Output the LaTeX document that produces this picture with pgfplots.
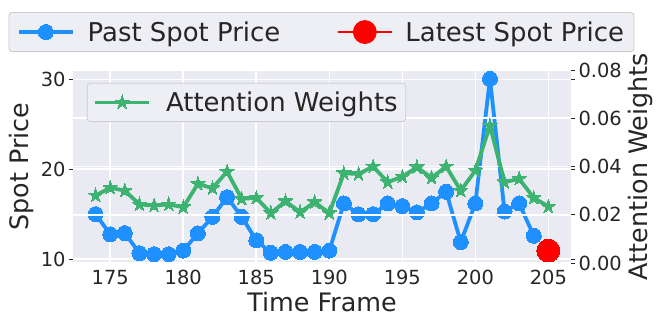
\documentclass[border=0pt]{standalone}
\usepackage{fontspec}
\setmainfont{DejaVu Sans}
\usepackage{pgfplots}
\pgfplotsset{compat=1.18}
\usetikzlibrary{plotmarks}
\definecolor{bgc}{HTML}{EAEAF2}
\definecolor{legbg}{HTML}{EEEEF5}
\definecolor{legedge}{HTML}{CCCCCC}
\definecolor{txt}{HTML}{262626}
\definecolor{dblue}{HTML}{1E90FF}
\definecolor{mgreen}{HTML}{3CB371}
\pgfdeclareplotmark{fivestar}{%
  \pgfpathmoveto{\pgfpointpolar{90}{\pgfplotmarksize}}%
  \pgfpathlineto{\pgfpointpolar{126}{0.382\pgfplotmarksize}}%
  \pgfpathlineto{\pgfpointpolar{162}{\pgfplotmarksize}}%
  \pgfpathlineto{\pgfpointpolar{198}{0.382\pgfplotmarksize}}%
  \pgfpathlineto{\pgfpointpolar{234}{\pgfplotmarksize}}%
  \pgfpathlineto{\pgfpointpolar{270}{0.382\pgfplotmarksize}}%
  \pgfpathlineto{\pgfpointpolar{306}{\pgfplotmarksize}}%
  \pgfpathlineto{\pgfpointpolar{342}{0.382\pgfplotmarksize}}%
  \pgfpathlineto{\pgfpointpolar{18}{\pgfplotmarksize}}%
  \pgfpathlineto{\pgfpointpolar{54}{0.382\pgfplotmarksize}}%
  \pgfpathclose
  \pgfusepathqfillstroke}
\pgfplotstableread{
x y
174 15.0
175 12.76
176 12.9
177 10.66
178 10.55
179 10.55
180 10.95
181 12.87
182 14.7
183 16.9
184 14.7
185 12.1
186 10.7
187 10.8
188 10.8
189 10.8
190 10.95
191 16.2
192 15.0
193 15.0
194 16.2
195 15.9
196 15.2
197 16.2
198 17.5
199 11.9
200 16.2
201 30.07
202 15.3
203 16.2
204 12.6
}\pastprice
\pgfplotstableread{
x w
174 0.0280
175 0.0312
176 0.0300
177 0.0243
178 0.0238
179 0.0243
180 0.0231
181 0.0328
182 0.0310
183 0.0379
184 0.0266
185 0.0270
186 0.0207
187 0.0256
188 0.0211
189 0.0252
190 0.0207
191 0.0372
192 0.0369
193 0.0400
194 0.0335
195 0.0358
196 0.0397
197 0.0353
198 0.0400
199 0.0300
200 0.0383
201 0.0569
202 0.0335
203 0.0349
204 0.0270
205 0.0234
}\attn
\begin{document}
\begin{tikzpicture}
\useasboundingbox (0,0) rectangle (664bp,332bp);
\pgfplotsset{
  every axis/.append style={
    scale only axis, width=498bp, height=193bp,
    at={(73bp,69bp)}, anchor=south west,
    /pgf/number format/assume math mode=true,
    /pgf/number format/1000 sep={},
    tick label style={font=\fontsize{19.5}{23}\selectfont, text=txt},
    label style={font=\fontsize{25.5}{30}\selectfont, text=txt},
    axis line style={draw=none},
    major grid style={white, line width=1.6bp},
    tick align=outside, major tick length=4bp,
    tick style={txt, line width=0.9bp},
    xmin=172.45, xmax=206.55,
  },
}
\begin{axis}[
  axis background/.style={fill=bgc},
  ymin=9.57, ymax=31.05,
  ytick={10,20,30}, xtick={175,180,...,205},
  xmajorgrids, ymajorgrids,
  xtick style={draw=none},
  xlabel={Time Frame}, ylabel={Spot Price},
  legend columns=2,
  legend image code/.code={\draw[mark repeat=2,mark phase=2,#1] plot coordinates {(0bp,0bp) (27bp,0bp) (54bp,0bp)};},
  legend style={at={(0.499,1.093)}, anchor=south, fill=legbg, draw=legedge, line width=0.8bp, rounded corners=3bp,
    font=\fontsize{26}{31}\selectfont, text=txt, inner xsep=8bp, inner ysep=7bp,
    /tikz/every odd column/.append style={column sep=11bp},
    /tikz/every even column/.append style={column sep=55bp}},
]
\addplot[dblue, line width=3.8bp, mark=*, mark size=7.5bp, mark options={solid, fill=dblue, draw=dblue, line width=0bp}] table[x=x,y=y]{\pastprice};
\addlegendentry{Past Spot Price}
\addplot[forget plot, red, only marks, mark=*, mark size=11.5bp, mark options={solid, fill=red, draw=red, line width=0bp}] coordinates {(205,10.95)};
\addlegendimage{legend image code/.code={\draw[red, line width=1.2bp] (0bp,0bp) -- (54bp,0bp); \fill[red] (27bp,0bp) circle (11.5bp);}}
\addlegendentry{Latest Spot Price}
\end{axis}
\begin{axis}[
  ymin=0, ymax=0.08, ytick={0,0.02,0.04,0.06,0.08},
  scaled y ticks=false,
  yticklabel style={/pgf/number format/fixed, /pgf/number format/fixed zerofill, /pgf/number format/precision=2},
  axis y line*=right, axis x line=none,
  ymajorgrids,
  ylabel={Attention Weights},
  legend image code/.code={\draw[mark repeat=2,mark phase=2,#1] plot coordinates {(0bp,0bp) (27bp,0bp) (54bp,0bp)};},
  legend style={at={(0.028,0.933)}, anchor=north west, fill=legbg, draw=legedge, line width=0.8bp, rounded corners=3bp,
    font=\fontsize{26}{31}\selectfont, text=txt, inner xsep=6bp, inner ysep=6.5bp,
    /tikz/every odd column/.append style={column sep=13bp}},
]
\addplot[mgreen, line width=3.8bp, mark=fivestar, mark size=7.5bp, mark options={solid, fill=mgreen, draw=mgreen, line width=0bp}] table[x=x,y=w]{\attn};
\addlegendentry{Attention Weights}
\end{axis}
\end{tikzpicture}
\end{document}
